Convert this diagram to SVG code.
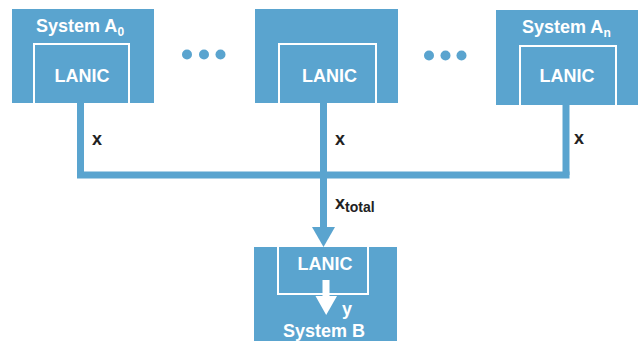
<svg xmlns="http://www.w3.org/2000/svg" width="638" height="341" viewBox="0 0 638 341">
<style>
.box{fill:#5aa4cf}
.inner{fill:none;stroke:#ffffff;stroke-width:2}
.wt{fill:#ffffff;font-family:"Liberation Sans",Arial,sans-serif;font-weight:bold;font-size:18px}
.bt{fill:#222222;font-family:"Liberation Sans",Arial,sans-serif;font-weight:bold;font-size:18px}
.ln{stroke:#5aa4cf;stroke-width:7;fill:none}
.dot{fill:#5aa4cf}
</style>
<rect width="638" height="341" fill="#ffffff"/>
<g id="connectors">
<line class="ln" x1="80.5" y1="100" x2="80.5" y2="175"/>
<line class="ln" x1="566" y1="100" x2="566" y2="175"/>
<line class="ln" x1="77" y1="175" x2="569.5" y2="175" stroke-width="8"/>
<line class="ln" x1="323.5" y1="100" x2="323.5" y2="229"/>
<polygon fill="#5aa4cf" points="312,227 335,227 323.5,247"/>
<text class="bt" x="92" y="145">x</text>
<text class="bt" x="335" y="145">x</text>
<text class="bt" x="574" y="144">x</text>
<text class="bt" x="335" y="209">x<tspan font-size="14" dy="3">total</tspan></text>
</g>
<g id="systemA0">
<rect class="box" x="12" y="9" width="142" height="94"/>
<path class="inner" d="M34,103 V44 H129 V103"/>
<text class="wt" x="36" y="32">System A<tspan font-size="12" dy="4">0</tspan></text>
<text class="wt" x="82" y="82" text-anchor="middle">LANIC</text>
</g>
<g id="systemMid">
<rect class="box" x="255" y="9" width="143" height="94"/>
<path class="inner" d="M279,103 V44 H376 V103"/>
<text class="wt" x="329.5" y="82" text-anchor="middle">LANIC</text>
</g>
<g id="systemAn">
<rect class="box" x="496" y="10" width="142" height="95"/>
<path class="inner" d="M520,105 V46 H616 V105"/>
<text class="wt" x="522" y="33">System A<tspan font-size="12" dy="4">n</tspan></text>
<text class="wt" x="567" y="82" text-anchor="middle">LANIC</text>
</g>
<g id="dots1">
<circle class="dot" cx="187" cy="54.5" r="5"/>
<circle class="dot" cx="204" cy="54.5" r="5"/>
<circle class="dot" cx="220.5" cy="54.5" r="5"/>
</g>
<g id="dots2">
<circle class="dot" cx="429" cy="55.5" r="5"/>
<circle class="dot" cx="445.5" cy="55.5" r="5"/>
<circle class="dot" cx="461.5" cy="55.5" r="5"/>
</g>
<g id="systemB">
<rect class="box" x="254" y="247" width="143" height="94"/>
<path class="inner" d="M278,247 V294 H368 V247"/>
<text class="wt" x="325" y="270" text-anchor="middle">LANIC</text>
<rect fill="#ffffff" x="322.5" y="280" width="7" height="17"/>
<polygon fill="#ffffff" points="315.5,296 337,296 326.2,315"/>
<text class="wt" x="342" y="315">y</text>
<text class="wt" x="324" y="337" text-anchor="middle">System B</text>
</g>
</svg>
